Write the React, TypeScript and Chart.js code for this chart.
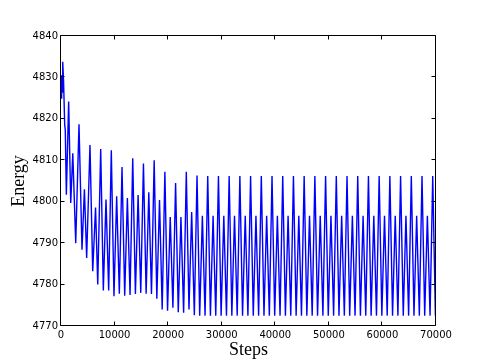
import { useEffect, useRef } from "react";
import { Chart, registerables } from "chart.js";

Chart.register(...registerables);

// Simulation steps (x) and energy (y)
const steps: number[] = [
  0, 120, 220, 320, 480, 690, 800, 1000,
  1430, 1820, 2200, 2750, 3360, 3920, 4370, 4790,
  5410, 5920, 6450, 6860, 7410, 7900, 8400, 8900,
  9390, 9890, 10390, 10890, 11390, 11890, 12390, 12890,
  13390, 13890, 14390, 14890, 15390, 15890, 16390, 16890,
  17390, 17890, 18390, 18890, 19390, 19890, 20390, 20890,
  21390, 21890, 22390, 22890, 23390, 23890, 24390, 24890,
  25390,
  25890, 26390, 26890, 27390,
  27890, 28390, 28890, 29390,
  29890, 30390, 30890, 31390,
  31890, 32390, 32890, 33390,
  33890, 34390, 34890, 35390,
  35890, 36390, 36890, 37390,
  37890, 38390, 38890, 39390,
  39890, 40390, 40890, 41390,
  41890, 42390, 42890, 43390,
  43890, 44390, 44890, 45390,
  45890, 46390, 46890, 47390,
  47890, 48390, 48890, 49390,
  49890, 50390, 50890, 51390,
  51890, 52390, 52890, 53390,
  53890, 54390, 54890, 55390,
  55890, 56390, 56890, 57390,
  57890, 58390, 58890, 59390,
  59890, 60390, 60890, 61390,
  61890, 62390, 62890, 63390,
  63890, 64390, 64890, 65390,
  65890, 66390, 66890, 67390,
  67890, 68390, 68890, 69390,
  69890, 70000,
];

const energy: number[] = [
  4825.0, 4830.5, 4826.5, 4833.8, 4829.0, 4818.5, 4817.3, 4801.7,
  4824.2, 4799.7, 4811.7, 4790.0, 4818.7, 4788.4, 4803.0, 4786.4,
  4813.7, 4783.2, 4798.6, 4780.0, 4812.7, 4778.6, 4800.5, 4778.6,
  4812.4, 4777.2, 4801.3, 4777.8, 4808.4, 4777.3, 4800.9, 4777.5,
  4810.5, 4777.7, 4801.6, 4778.0, 4809.2, 4777.8, 4802.3, 4777.7,
  4810.0, 4776.6, 4800.4, 4774.0, 4807.2, 4773.7, 4796.3, 4774.4,
  4804.5, 4773.3, 4796.3, 4773.2, 4807.2, 4774.0, 4797.5, 4772.6,
  4806.3,
  4772.5, 4796.6, 4772.5, 4806.2,
  4772.5, 4796.6, 4772.5, 4806.2,
  4772.5, 4796.6, 4772.5, 4806.2,
  4772.5, 4796.6, 4772.5, 4806.2,
  4772.5, 4796.6, 4772.5, 4806.2,
  4772.5, 4796.6, 4772.5, 4806.2,
  4772.5, 4796.6, 4772.5, 4806.2,
  4772.5, 4796.6, 4772.5, 4806.2,
  4772.5, 4796.6, 4772.5, 4806.2,
  4772.5, 4796.6, 4772.5, 4806.2,
  4772.5, 4796.6, 4772.5, 4806.2,
  4772.5, 4796.6, 4772.5, 4806.2,
  4772.5, 4796.6, 4772.5, 4806.2,
  4772.5, 4796.6, 4772.5, 4806.2,
  4772.5, 4796.6, 4772.5, 4806.2,
  4772.5, 4796.6, 4772.5, 4806.2,
  4772.5, 4796.6, 4772.5, 4806.2,
  4772.5, 4796.6, 4772.5, 4806.2,
  4772.5, 4796.6, 4772.5, 4806.2,
  4772.5, 4796.6, 4772.5, 4806.2,
  4772.5, 4796.6, 4772.5, 4806.2,
  4772.5, 4796.6, 4772.5, 4806.2,
  4772.5, 4775.0,
];

const xTicks: number[] = [0, 10000, 20000, 30000, 40000, 50000, 60000, 70000];
const yTicks: number[] = [4770, 4780, 4790, 4800, 4810, 4820, 4830, 4840];

const xTitle = "Steps";
const yTitle = "Energy";

// Draws the matplotlib-style box with inward tick marks on all four sides
const framePlugin = {
  id: "frame",
  afterDatasetsDraw(chart: any) {
    const { ctx, chartArea: a, scales } = chart;
    const L = Math.round(a.left) - 0.5;
    const R = Math.round(a.right) - 0.5;
    const T = Math.round(a.top) - 0.5;
    const B = Math.round(a.bottom) - 0.5;
    const len = 4;
    ctx.save();
    ctx.strokeStyle = "#000";
    ctx.lineWidth = 1;
    ctx.beginPath();
    ctx.rect(L, T, R - L, B - T);
    for (const v of xTicks) {
      const px = Math.round(scales.x.getPixelForValue(v)) - 0.5;
      ctx.moveTo(px, B);
      ctx.lineTo(px, B - len);
      ctx.moveTo(px, T);
      ctx.lineTo(px, T + len);
    }
    for (const v of yTicks) {
      const py = Math.round(scales.y.getPixelForValue(v)) - 0.5;
      ctx.moveTo(L, py);
      ctx.lineTo(L + len, py);
      ctx.moveTo(R, py);
      ctx.lineTo(R - len, py);
    }
    ctx.stroke();
    ctx.restore();
  },
};

export default function App() {
  const canvasRef = useRef<HTMLCanvasElement | null>(null);

  useEffect(() => {
    const canvas = canvasRef.current;
    if (!canvas) return;
    const points = steps.map((s, i) => ({ x: s, y: energy[i] }));
    const tickFont = { family: "DejaVu Sans", size: 10 };
    const titleFont = { family: "Liberation Serif", size: 18 };
    const chart = new Chart(canvas, {
      type: "line",
      data: {
        datasets: [
          {
            data: points,
            borderColor: "#0000ff",
            borderWidth: 1.4,
            pointRadius: 0,
            tension: 0,
            fill: false,
          },
        ],
      },
      plugins: [framePlugin],
      options: {
        responsive: false,
        animation: false,
        devicePixelRatio: 1,
        layout: { padding: { top: 36, right: 49, left: 0, bottom: 0 } },
        plugins: { legend: { display: false }, tooltip: { enabled: false } },
        scales: {
          x: {
            type: "linear",
            min: 0,
            max: 70000,
            afterBuildTicks: (s: any) => {
              s.ticks = xTicks.map((v) => ({ value: v }));
            },
            afterFit: (s: any) => {
              s.height = 37;
            },
            grid: { display: false, drawTicks: false },
            border: { display: false },
            ticks: {
              autoSkip: false,
              maxRotation: 0,
              padding: 3,
              color: "#000",
              font: tickFont,
              callback: (v: any) => String(v),
            },
            title: {
              display: true,
              text: xTitle,
              color: "#000",
              font: titleFont,
              padding: { top: 0, bottom: 2 },
            },
          },
          y: {
            type: "linear",
            min: 4770,
            max: 4840,
            afterBuildTicks: (s: any) => {
              s.ticks = yTicks.map((v) => ({ value: v }));
            },
            afterFit: (s: any) => {
              s.width = 61;
            },
            grid: { display: false, drawTicks: false },
            border: { display: false },
            ticks: {
              autoSkip: false,
              padding: 3,
              color: "#000",
              font: tickFont,
              callback: (v: any) => String(v),
            },
            title: {
              display: true,
              text: yTitle,
              color: "#000",
              font: titleFont,
              padding: { top: 8, bottom: 0 },
            },
          },
        },
      },
    } as any);
    return () => chart.destroy();
  }, []);

  return (
    <div style={{ position: "absolute", left: 0, top: 0, width: 485, height: 363, background: "#fff" }}>
      <canvas ref={canvasRef} width={485} height={363} style={{ display: "block" }} />
    </div>
  );
}
